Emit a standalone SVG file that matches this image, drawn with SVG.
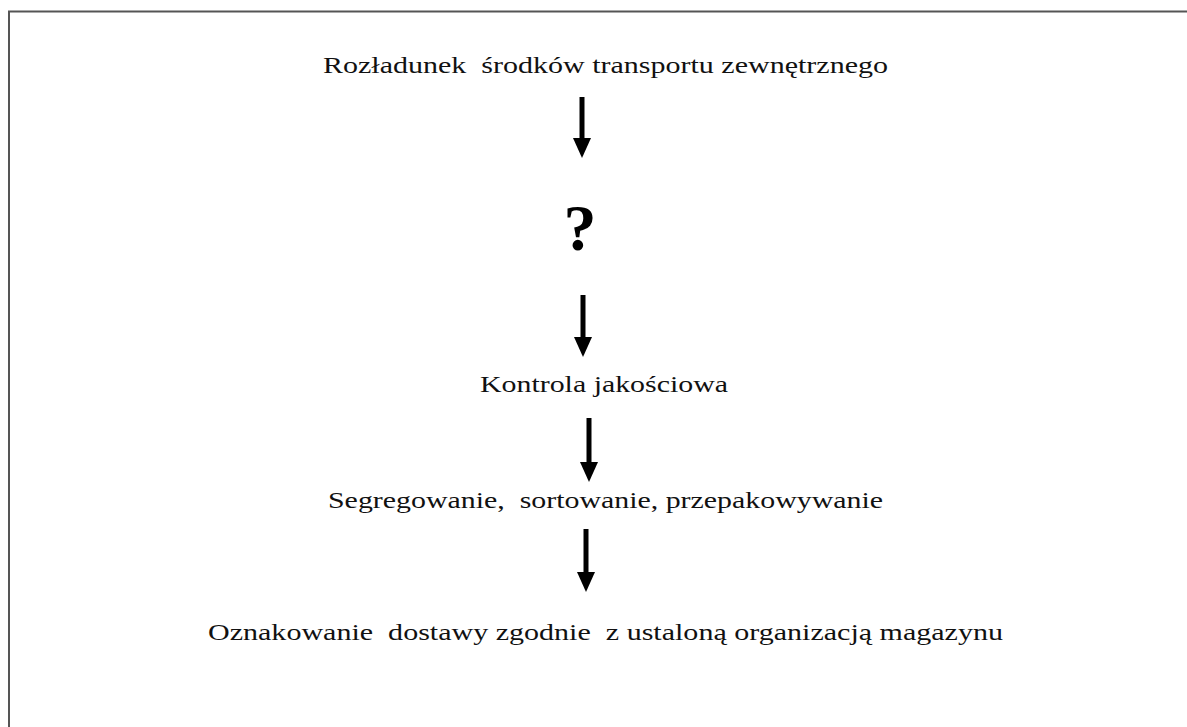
<svg xmlns="http://www.w3.org/2000/svg" width="1187" height="727" viewBox="0 0 1187 727">
<style>
.lbl{font-family:"Liberation Serif","Times New Roman",serif;font-size:24px;fill:#111;white-space:pre;}
.q{font-family:"Liberation Serif","Times New Roman",serif;font-size:66px;font-weight:bold;fill:#000;}
.conn{stroke:#000;stroke-width:5;fill:none;}
</style>
<defs>
<marker id="ah" markerUnits="userSpaceOnUse" markerWidth="20" markerHeight="18" refX="0" refY="9" orient="auto">
<path d="M0,0 L20,9 L0,18 z" fill="#000"/>
</marker>
</defs>
<rect x="0" y="0" width="1187" height="727" fill="#fff"/>
<rect x="9" y="11.5" width="1200" height="800" fill="none" stroke="#555" stroke-width="2"/>
<g id="n1"><text class="lbl" x="323" y="73" textLength="565" lengthAdjust="spacingAndGlyphs">Rozładunek  środków transportu zewnętrznego</text></g>
<g id="n2"><text class="q" x="580" y="250" text-anchor="middle">?</text></g>
<g id="n3"><text class="lbl" x="480" y="392" textLength="248" lengthAdjust="spacingAndGlyphs">Kontrola jakościowa</text></g>
<g id="n4"><text class="lbl" x="328" y="508" textLength="555" lengthAdjust="spacingAndGlyphs">Segregowanie,  sortowanie, przepakowywanie</text></g>
<g id="n5"><text class="lbl" x="208" y="640" textLength="795" lengthAdjust="spacingAndGlyphs">Oznakowanie  dostawy zgodnie  z ustaloną organizacją magazynu</text></g>
<g id="connectors">
<line class="conn" x1="582" y1="97" x2="582" y2="138" marker-end="url(#ah)"/>
<line class="conn" x1="583" y1="295" x2="583" y2="337" marker-end="url(#ah)"/>
<line class="conn" x1="589" y1="418" x2="589" y2="462" marker-end="url(#ah)"/>
<line class="conn" x1="586" y1="529" x2="586" y2="572" marker-end="url(#ah)"/>
</g>
</svg>
